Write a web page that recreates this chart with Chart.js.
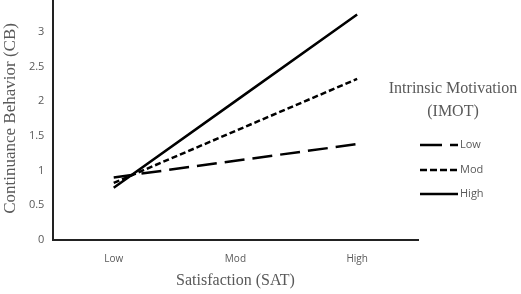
<!DOCTYPE html>
<html lang="en">
<head>
<meta charset="UTF-8">
<title>IMOT interaction</title>
<script src="https://cdn.jsdelivr.net/npm/chart.js"></script>
<style>
    html, body { margin: 0; padding: 0; background: #fff; overflow: hidden; }
    .wrap { position: absolute; left: 0; top: -18px; width: 521px; height: 308px; }
</style>
</head>
<body>
<div class="wrap"><canvas id="myChart"></canvas></div>
<script>
    // data
    const categorias = ['Low', 'Mod', 'High'];
    const imotLow = [0.90, 1.14, 1.38];
    const imotMod = [0.82, 1.57, 2.32];
    const imotHigh = [0.75, 2.00, 3.25];
    const legendaTitulo = ['Intrinsic Motivation', '(IMOT)'];

    // legenda desenhada a mao, do lado direito (coordenadas do canvas, 18px abaixo da pagina)
    const legendaPlugin = {
        id: 'legendaImot',
        afterDraw(chart) {
            const ctx = chart.ctx;
            ctx.save();
            ctx.fillStyle = '#595959';
            ctx.font = '16px "Liberation Serif"';
            ctx.textAlign = 'center';
            ctx.textBaseline = 'middle';
            ctx.fillText(legendaTitulo[0], 453, 107);
            ctx.fillText(legendaTitulo[1], 453, 130);
            const ys = [163, 188, 212];
            chart.data.datasets.forEach((ds, i) => {
                ctx.strokeStyle = '#000';
                ctx.lineWidth = ds.borderWidth;
                ctx.setLineDash(ds.legendDash || []);
                ctx.beginPath();
                ctx.moveTo(420, ys[i]);
                ctx.lineTo(458, ys[i]);
                ctx.stroke();
                ctx.setLineDash([]);
                ctx.fillStyle = '#595959';
                ctx.font = '11px "Open Sans"';
                ctx.textAlign = 'left';
                ctx.fillText(ds.label, 460, ys[i]);
            });
            ctx.restore();
        }
    };

    const ctx = document.getElementById('myChart').getContext('2d');
    new Chart(ctx, {
        type: 'line',
        data: {
            labels: categorias,
            datasets: [{
                label: 'Low',
                data: imotLow,
                borderColor: '#000',
                borderWidth: 2.5,
                borderDash: [20, 8],
                legendDash: [22, 8, 8, 100],
                pointRadius: 0
            }, {
                label: 'Mod',
                data: imotMod,
                borderColor: '#000',
                borderWidth: 2.5,
                borderDash: [6, 3],
                legendDash: [7, 3],
                pointRadius: 0
            }, {
                label: 'High',
                data: imotHigh,
                borderColor: '#000',
                borderWidth: 2.5,
                legendDash: [],
                pointRadius: 0
            }]
        },
        options: {
            responsive: true,
            maintainAspectRatio: false,
            animation: false,
            layout: { padding: { top: 12, right: 103, bottom: 0, left: 0 } },
            plugins: {
                legend: { display: false },
                tooltip: { enabled: false }
            },
            scales: {
                x: {
                    offset: true,
                    grid: { display: false, drawTicks: false },
                    border: { color: '#222', width: 2 },
                    ticks: { color: '#595959', font: { family: 'Open Sans', size: 10 }, padding: 13 },
                    title: {
                        display: true,
                        text: 'Satisfaction (SAT)',
                        color: '#595959',
                        font: { family: 'Liberation Serif', size: 16 },
                        padding: { top: -7, bottom: 0 }
                    }
                },
                y: {
                    min: 0,
                    max: 3.5,
                    grid: { display: false, drawTicks: false },
                    border: { color: '#222', width: 2 },
                    ticks: {
                        stepSize: 0.5,
                        color: '#595959',
                        font: { family: 'Open Sans', size: 11 },
                        padding: 8.5,
                        callback: v => String(v)
                    },
                    title: {
                        display: true,
                        text: 'Continuance Behavior (CB)',
                        color: '#595959',
                        font: { family: 'Liberation Serif', size: 17 },
                        padding: { top: 0, bottom: 0 }
                    }
                }
            }
        },
        plugins: [legendaPlugin]
    });
</script>
</body>
</html>
